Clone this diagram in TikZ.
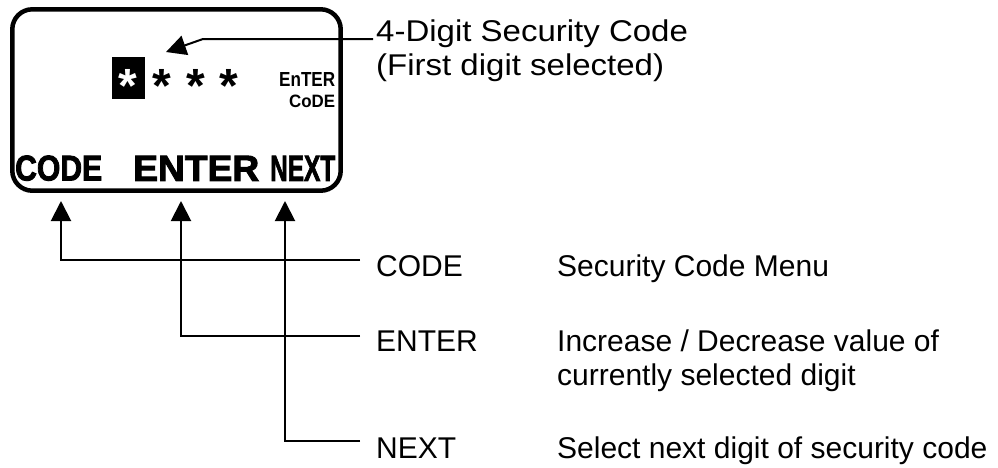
\documentclass[tikz,border=0pt]{standalone}
\usepackage{fontspec}
\usepackage{graphicx}
\setmainfont{Liberation Sans}
\newfontfamily\heavy{Liberation Sans}[BoldFeatures={FakeBold=2.5}]
\usetikzlibrary{arrows.meta}
\tikzset{
  conn/.style={line width=2pt, -{Triangle[length=20pt,width=20pt]}},
  lbl/.style={anchor=base west, inner sep=0pt, font=\fontsize{30}{35}\selectfont},
  keylbl/.style={anchor=south west, inner sep=0pt},
  star/.style={anchor=north, inner sep=0pt, font=\fontsize{48}{48}\selectfont\bfseries},
}
\begin{document}
\begin{tikzpicture}[x=1pt,y=-1pt]
\useasboundingbox (0,0) rectangle (998,467);
% display
\draw[line width=4.5pt, rounded corners=20pt] (12.3,9.3) rectangle (340.7,190.7);
\fill (112,57) rectangle (145,99);
\node[star, text=white] (s1) at (128,69) {*};
\node[star] (s2) at (162,69) {*};
\node[star] (s3) at (196,69) {*};
\node[star] (s4) at (229,69) {*};
\node[keylbl] (en) at (279,87) {\resizebox{56pt}{14pt}{\bfseries EnTER}};
\node[keylbl] (co) at (289,108) {\resizebox{46pt}{12.5pt}{\bfseries CoDE}};
\node[keylbl] (kcode) at (15,181) {\resizebox{87pt}{25pt}{\heavy\bfseries CODE}};
\node[keylbl] (kenter) at (133,181) {\resizebox{126pt}{25pt}{\heavy\bfseries ENTER}};
\node[keylbl] (knext) at (270,181) {\resizebox{65pt}{25pt}{\heavy\bfseries NEXT}};
% callout
\node[lbl] (t4) at (376,41) {\scalebox{1.1}[1]{4-Digit Security Code}};
\node[lbl] (tfirst) at (376,75) {\scalebox{1.1}[1]{(First digit selected)}};
\coordinate (cs) at (373,39);
\coordinate (cb) at (203,39);
\coordinate (ctip) at (166,52);
\draw[conn] (cs) -- (cb) -- (ctip);
% key descriptions
\node[lbl] (tcode) at (376,276) {CODE};
\node[lbl] (tenter) at (376,351) {ENTER};
\node[lbl] (tnext) at (376,458) {NEXT};
\node[lbl] (dcode) at (557,276) {Security Code Menu};
\node[lbl] (denter) at (557,351) {\begin{tabular}[t]{@{}l@{}}Increase / Decrease value of\\[-1pt]currently selected digit\end{tabular}};
\node[lbl] (dnext) at (557,458) {Select next digit of security code};
\coordinate (a1) at (61,201);
\coordinate (a2) at (181,201);
\coordinate (a3) at (285,201);
\coordinate (h1) at (360,260);
\coordinate (h2) at (360,336);
\coordinate (h3) at (360,441);
\draw[conn] (h1) -| (a1);
\draw[conn] (h2) -| (a2);
\draw[conn] (h3) -| (a3);
\end{tikzpicture}
\end{document}
